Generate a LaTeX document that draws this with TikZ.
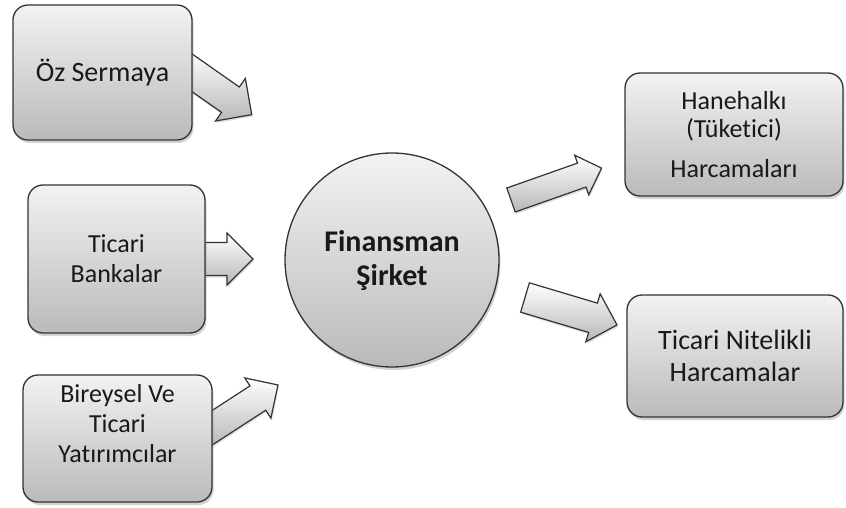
\documentclass[tikz,border=0pt]{standalone}
\usepackage{fontspec}
\setmainfont{Carlito}[Ligatures=NoCommon]
\usetikzlibrary{shadows}

% block arrow: start, angle, length, shaft half width, head half width
\newcommand{\blockarrow}[5]{%
  \draw[flow arrow, shift={(#1)}, rotate=#2]
    (0,#4) -- ({#3-#5},#4) -- ({#3-#5},#5) -- (#3,0) -- ({#3-#5},-#5)
    -- ({#3-#5},-#4) -- (0,-#4) -- cycle;
}

\begin{document}
\begin{tikzpicture}[x=1pt,y=-1pt,
	box/.style={draw=black!80, line width=1.3pt, rounded corners=15pt,
		top color=black!5, bottom color=black!27, text=black!90,
		drop shadow={opacity=0.35, shadow xshift=1.5pt, shadow yshift=-3pt},
		align=center, inner sep=0pt, font=\fontsize{26}{30}\selectfont},
	big text/.style={font=\fontsize{28}{32}\selectfont},
	center node/.style={circle, draw=black!80, line width=1.3pt,
		top color=black!5, bottom color=black!27, text=black!90,
		drop shadow={opacity=0.35, shadow xshift=1.5pt, shadow yshift=-3pt},
		align=center, minimum size=214pt, inner sep=0pt,
		font=\bfseries\fontsize{30}{34}\selectfont},
	flow arrow/.style={draw=black!80, line width=1.2pt, line join=miter,
		top color=white, bottom color=black!28,
		drop shadow={opacity=0.25, shadow xshift=1pt, shadow yshift=-2pt}}]
	
	\useasboundingbox (0,0) rectangle (846,508);
	
	% arrows into the company (tails hidden behind the boxes)
	\blockarrow{178,63}{-35}{90}{15.5}{26}
	\blockarrow{190,259}{0}{63}{16.5}{26}
	\blockarrow{202.5,434}{33}{90}{14.5}{24}
	
	% sources
	\node[box, big text, minimum width=179pt, minimum height=135pt] (oz) at (102.5,72.5) {Öz Sermaya};
	\node[box, minimum width=177pt, minimum height=148pt] (banka) at (116.5,259) {Ticari\\Bankalar};
	\node[box, minimum width=189pt, minimum height=127pt, text depth=30pt] (yatirimci) at (117.5,438.5) {Bireysel Ve\\Ticari\\Yatırımcılar};
	
	% company
	\node[center node] (sirket) at (392,260) {Finansman\\Şirket};
	
	% arrows out of the company
	\blockarrow{511,200}{19.4}{96}{12.7}{21}
	\blockarrow{525,297.5}{-16.6}{96}{15.3}{25}
	
	% spending
	\node[box, minimum width=218pt, minimum height=123pt, font=\fontsize{26}{28}\selectfont] (hane) at (734,134.5) {Hanehalkı\\(Tüketici)\\[12pt]Harcamaları};
	\node[box, big text, minimum width=216pt, minimum height=122pt] (ticari) at (735,356) {Ticari Nitelikli\\Harcamalar};
\end{tikzpicture}
\end{document}
